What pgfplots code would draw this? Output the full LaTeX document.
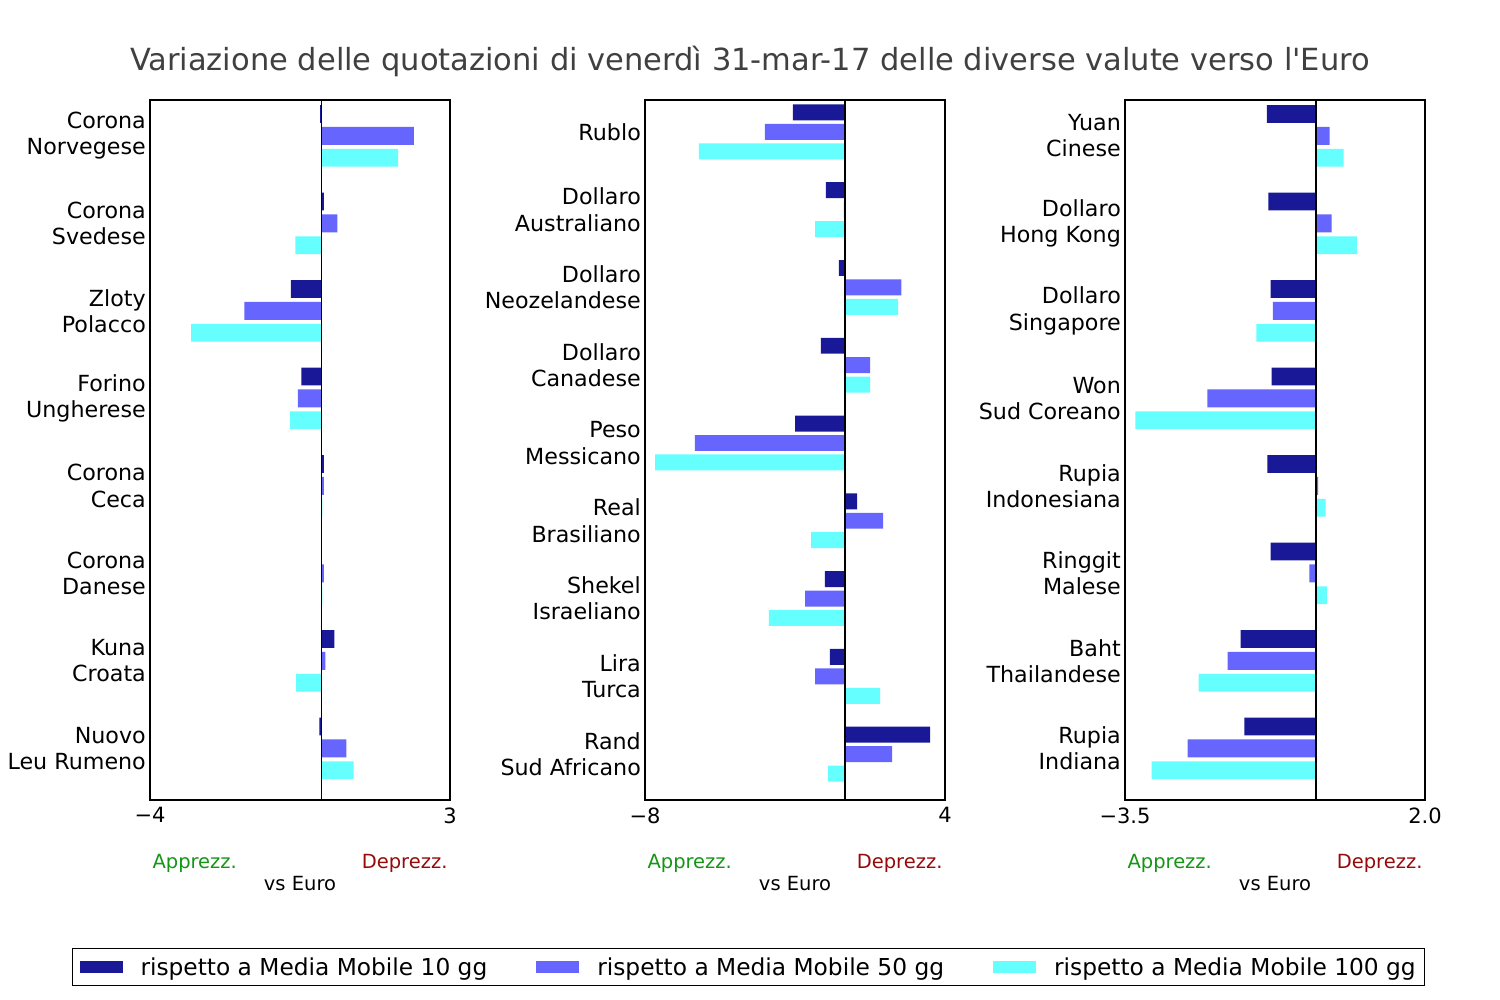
\documentclass[border=0pt]{standalone}
\usepackage{pgfplots}
\pgfplotsset{compat=1.18}
\usepackage{pgfplotstable}
\usepackage{fontspec}
\setmainfont{DejaVu Sans}
\definecolor{c1}{RGB}{25,25,151}
\definecolor{c2}{RGB}{102,102,255}
\definecolor{c3}{RGB}{102,255,255}
\definecolor{titlegray}{RGB}{64,64,64}
\definecolor{appgreen}{RGB}{20,150,20}
\definecolor{depred}{RGB}{150,10,10}
\newcommand{\lab}{\fontsize{22.2pt}{26.2pt}\selectfont}
\newcommand{\tck}{\fontsize{21pt}{25pt}\selectfont}
\newcommand{\sml}{\fontsize{19.5pt}{23pt}\selectfont}

\pgfplotstableread{
pos a b c
0 -0.03 2.16 1.79
1 0.06 0.37 -0.61
2 -0.71 -1.80 -3.04
3 -0.47 -0.55 -0.73
4 0.06 0.06 0.02
5 0.01 0.06 0.02
6 0.30 0.09 -0.59
7 -0.05 0.58 0.75
}\tabA
\pgfplotstableread{
pos a b c
0 -2.09 -3.21 -5.85
1 -0.77 -0.05 -1.20
2 -0.25 2.25 2.12
3 -0.97 1.00 1.00
4 -2.00 -6.01 -7.60
5 0.48 1.52 -1.36
6 -0.81 -1.60 -3.05
7 -0.61 -1.20 1.40
8 3.40 1.88 -0.68
}\tabB
\pgfplotstableread{
pos a b c
0 -0.90 0.25 0.51
1 -0.87 0.29 0.75
2 -0.83 -0.79 -1.09
3 -0.81 -1.99 -3.31
4 -0.89 0.04 0.18
5 -0.83 -0.12 0.20
6 -1.38 -1.62 -2.15
7 -1.31 -2.35 -3.01
}\tabC

\pgfplotsset{
  panel/.style={
    scale only axis, width=300pt, height=700pt,
    y dir=reverse, ymin=0,
    axis line style={line width=1.2pt},
    major tick length=0pt,
    xticklabel style={font=\tck, yshift=-4pt},
    yticklabel style={font=\lab, align=right, inner sep=3pt, xshift=-1pt},
    clip=false,
  },
  bs/.style={xbar, bar width=0.205, bar shift=0pt, draw=none},
}

\begin{document}
\begin{tikzpicture}[x=1pt,y=1pt]
\path[use as bounding box] (0,0) rectangle (1500,1000);
\node[font=\fontsize{30.5pt}{36pt}\selectfont, text=titlegray] at (750,939) {Variazione delle quotazioni di venerdì 31-mar-17 delle diverse valute verso l\textquotesingle Euro};

% Panel 1
\begin{axis}[panel, at={(150pt,200pt)}, anchor=south west,
  xmin=-4, xmax=3, ymax=8,
  xtick={-4,3}, xticklabels={−4,3},
  ytick={0.41,1.41,2.41,3.41,4.41,5.41,6.41,7.41},
  yticklabels={{Corona\\Norvegese},{Corona\\Svedese},{Zloty\\Polacco},{Forino\\Ungherese},{Corona\\Ceca},{Corona\\Danese},{Kuna\\Croata},{Nuovo\\Leu Rumeno}},
  legend columns=3,
  legend style={at={(-0.26,-0.2114)}, anchor=north west, draw=black, line width=1pt,
    font=\fontsize{23.3pt}{27pt}\selectfont, inner xsep=7pt, inner ysep=7pt,
    /tikz/every odd column/.append style={column sep=16pt},
    /tikz/every even column/.append style={column sep=47pt}},
  legend image code/.code={\fill[#1] (0pt,-6pt) rectangle (43pt,6pt);},
]
\addplot[bs, fill=c1] table[x=a, y expr=\thisrow{pos}+0.16] {\tabA};
\addplot[bs, fill=c2] table[x=b, y expr=\thisrow{pos}+0.41] {\tabA};
\addplot[bs, fill=c3] table[x=c, y expr=\thisrow{pos}+0.66] {\tabA};
\addplot[black, line width=1.2pt, mark=none] coordinates {(0,0) (0,8)};
\legend{rispetto a Media Mobile 10 gg, rispetto a Media Mobile 50 gg, rispetto a Media Mobile 100 gg}
\end{axis}

% Panel 2
\begin{axis}[panel, at={(645pt,200pt)}, anchor=south west,
  xmin=-8, xmax=4, ymax=9,
  xtick={-8,4}, xticklabels={−8,4},
  ytick={0.41,1.41,2.41,3.41,4.41,5.41,6.41,7.41,8.41},
  yticklabels={{Rublo},{Dollaro\\Australiano},{Dollaro\\Neozelandese},{Dollaro\\Canadese},{Peso\\Messicano},{Real\\Brasiliano},{Shekel\\Israeliano},{Lira\\Turca},{Rand\\Sud Africano}},
]
\addplot[bs, fill=c1] table[x=a, y expr=\thisrow{pos}+0.16] {\tabB};
\addplot[bs, fill=c2] table[x=b, y expr=\thisrow{pos}+0.41] {\tabB};
\addplot[bs, fill=c3] table[x=c, y expr=\thisrow{pos}+0.66] {\tabB};
\addplot[black, line width=1.2pt, mark=none] coordinates {(0,0) (0,9)};
\end{axis}

% Panel 3
\begin{axis}[panel, at={(1125pt,200pt)}, anchor=south west,
  xmin=-3.5, xmax=2.0, ymax=8,
  xtick={-3.5,2.0}, xticklabels={−3.5,2.0},
  ytick={0.41,1.41,2.41,3.41,4.41,5.41,6.41,7.41},
  yticklabels={{Yuan\\Cinese},{Dollaro\\Hong Kong},{Dollaro\\Singapore},{Won\\Sud Coreano},{Rupia\\Indonesiana},{Ringgit\\Malese},{Baht\\Thailandese},{Rupia\\Indiana}},
]
\addplot[bs, fill=c1] table[x=a, y expr=\thisrow{pos}+0.16] {\tabC};
\addplot[bs, fill=c2] table[x=b, y expr=\thisrow{pos}+0.41] {\tabC};
\addplot[bs, fill=c3] table[x=c, y expr=\thisrow{pos}+0.66] {\tabC};
\addplot[black, line width=1.2pt, mark=none] coordinates {(0,0) (0,8)};
\end{axis}

% annotations below panels
\foreach \xl/\xc/\xr in {150/300/450, 645/795/945, 1125/1275/1425}{
  \node[font=\sml, text=appgreen, anchor=west] at (\xl-1,137) {Apprezz.};
  \node[font=\sml, text=depred, anchor=east] at (\xr+1,137) {Deprezz.};
  \node[font=\sml, anchor=center] at (\xc,116) {vs Euro};
}
\end{tikzpicture}
\end{document}
